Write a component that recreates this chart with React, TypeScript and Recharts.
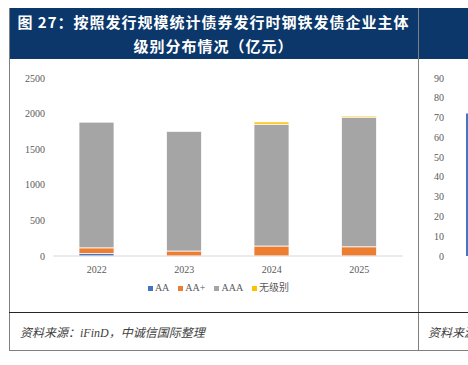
import { BarChart, Bar, XAxis, YAxis, Legend } from 'recharts'

const years = ['2022', '2023', '2024', '2025']
const aaValues = [35, 0, 0, 0]
const aaPlusValues = [80, 70, 140, 130]
const aaaValues = [1765, 1680, 1710, 1820]
const unratedValues = [0, 0, 33, 15]
const yTicks = [0, 500, 1000, 1500, 2000, 2500]

// neighbouring figure, only its first bar shows at the edge
const rightCategories = ['']
const rightValues = [72]
const rightTicks = [0, 10, 20, 30, 40, 50, 60, 70, 80, 90]

const SERIES = [
  { key: 'AA', name: 'AA', color: '#4472C4' },
  { key: 'AAplus', name: 'AA+', color: '#ED7D31' },
  { key: 'AAA', name: 'AAA', color: '#A5A5A5' },
  { key: 'unrated', name: '无级别', color: '#FFC000' },
]

const data = years.map((year, i) => ({
  year,
  AA: aaValues[i],
  AAplus: aaPlusValues[i],
  AAA: aaaValues[i],
  unrated: unratedValues[i],
}))

const rightData = rightCategories.map((c, i) => ({ c, v: rightValues[i] }))

const FONT = '"Liberation Serif", "Noto Sans CJK SC", serif'
const TITLE_BLUE = '#0c376a'
const tick = { fill: '#595959', fontSize: 10, fontFamily: FONT }

function LegendRow() {
  return (
    <div style={{ display: 'flex', justifyContent: 'center', gap: 9, paddingLeft: 24, fontFamily: FONT, fontSize: 10, color: '#595959', lineHeight: '14px' }}>
      {SERIES.map((s) => (
        <div key={s.key} style={{ display: 'flex', alignItems: 'center', gap: 2 }}>
          <div style={{ width: 5, height: 5, backgroundColor: s.color }} />
          <span>{s.name}</span>
        </div>
      ))}
    </div>
  )
}

export default function App() {
  return (
    <div style={{ position: 'absolute', left: 0, top: 0, width: 468, height: 365, background: '#fff', overflow: 'hidden' }}>
      {/* title bar */}
      <div style={{ position: 'absolute', left: 9, top: 8, width: 459, height: 51, background: TITLE_BLUE }} />
      <div
        style={{
          position: 'absolute', left: 9, top: 10, width: 409, textAlign: 'center', color: '#fff',
          fontFamily: '"Noto Sans CJK SC", sans-serif', fontWeight: 700, fontSize: 15, letterSpacing: 1, lineHeight: '24px',
        }}
      >
        图 27：按照发行规模统计债券发行时钢铁发债企业主体
        <br />
        级别分布情况（亿元）
      </div>

      {/* frame lines */}
      <div style={{ position: 'absolute', left: 9, top: 8, width: 1, height: 343, background: '#7f7f7f' }} />
      <div style={{ position: 'absolute', left: 418, top: 8, width: 1, height: 343, background: '#7f7f7f' }} />
      <div style={{ position: 'absolute', left: 9, top: 312, width: 459, height: 1, background: '#262626' }} />
      <div style={{ position: 'absolute', left: 9, top: 350, width: 459, height: 1, background: '#7f7f7f' }} />

      {/* main chart */}
      <div style={{ position: 'absolute', left: 10, top: 60 }}>
        <BarChart width={408} height={252} data={data} margin={{ top: 18, right: 15, bottom: 17, left: 0 }}>
          <XAxis dataKey="year" axisLine={{ stroke: '#d9d9d9' }} tickLine={false} tick={tick} height={25} tickMargin={4} />
          <YAxis domain={[0, 2500]} ticks={yTicks} axisLine={false} tickLine={false} tick={tick} width={43} />
          {SERIES.map((s) => (
            <Bar key={s.key} dataKey={s.key} name={s.name} stackId="a" fill={s.color} stroke="#fff" strokeWidth={0.75} barSize={35} isAnimationActive={false} />
          ))}
          <Legend verticalAlign="bottom" height={14} content={() => <LegendRow />} />
        </BarChart>
      </div>

      {/* edge of the next figure */}
      <div style={{ position: 'absolute', left: 419, top: 60, width: 49, height: 252, overflow: 'hidden' }}>
        <BarChart width={96} height={252} data={rightData} margin={{ top: 18, right: 0, bottom: 56, left: 0 }}>
          <XAxis dataKey="c" axisLine={{ stroke: '#d9d9d9' }} tickLine={false} tick={false} height={0} />
          <YAxis domain={[0, 90]} ticks={rightTicks} axisLine={false} tickLine={false} tick={tick} width={33} />
          <Bar dataKey="v" fill="#4472C4" barSize={35} isAnimationActive={false} />
        </BarChart>
      </div>

      {/* sources */}
      <div style={{ position: 'absolute', left: 20, top: 323, fontFamily: FONT, fontStyle: 'italic', fontSize: 12, color: '#404040' }}>
        资料来源：iFinD，中诚信国际整理
      </div>
      <div style={{ position: 'absolute', left: 428, top: 323, width: 40, overflow: 'hidden', fontFamily: FONT, fontStyle: 'italic', fontSize: 12, color: '#404040', whiteSpace: 'nowrap' }}>
        资料来源
      </div>
    </div>
  )
}
